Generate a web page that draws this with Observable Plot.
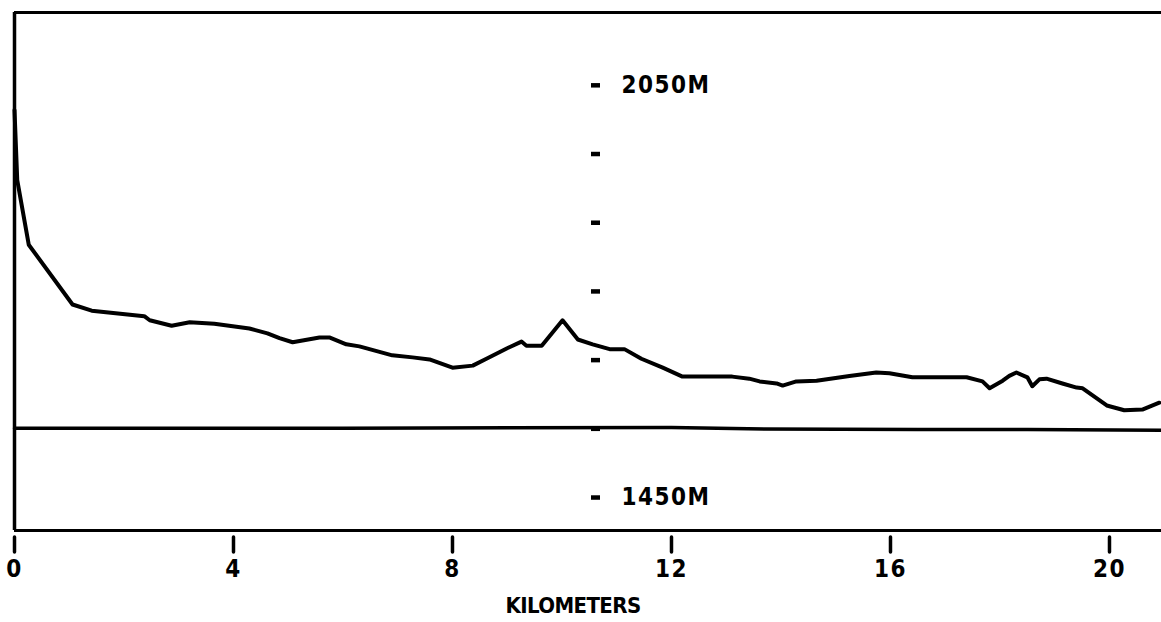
<!DOCTYPE html>
<html>
<head>
<meta charset="utf-8">
<script src="https://cdn.jsdelivr.net/npm/d3@7"></script>
<script src="https://cdn.jsdelivr.net/npm/@observablehq/plot@0.6"></script>
<style>
  html, body { margin: 0; padding: 0; background: #fff; }
  #chart svg { display: block; background: #fff; }
  #chart svg text {
    font-family: "DejaVu Sans Condensed", "DejaVu Sans", sans-serif;
    font-stretch: condensed;
    font-weight: bold;
    font-size: 24px;
    letter-spacing: 1.5px;
    fill: #000;
  }
  #chart svg g.xtitle text {
    font-size: 22px;
    letter-spacing: -0.6px;
  }
</style>
</head>
<body>
<div id="chart"></div>
<script>
// Profile distance (km) and elevation (m)
const profileKm = [0, 0.05, 0.26, 1.06, 1.41, 2.37, 2.47, 2.87, 3.20, 3.65, 4.29, 4.62, 4.84, 5.08, 5.57, 5.75, 6.06, 6.30, 6.90, 7.27, 7.58, 8.00, 8.37, 8.62, 8.99, 9.26, 9.35, 9.63, 10.01, 10.29, 10.56, 10.87, 11.14, 11.45, 11.84, 12.20, 13.11, 13.42, 13.61, 13.92, 14.03, 14.28, 14.65, 15.25, 15.74, 15.98, 16.40, 17.39, 17.68, 17.81, 18.05, 18.17, 18.30, 18.50, 18.59, 18.72, 18.85, 19.14, 19.40, 19.51, 19.95, 20.27, 20.60, 20.91];
const profileM  = [2014, 1912, 1818, 1731, 1722, 1714, 1708, 1700, 1705, 1703, 1696, 1689, 1682, 1676, 1683, 1683, 1673, 1670, 1657, 1654, 1651, 1639, 1642, 1652, 1667, 1677, 1671, 1671, 1708, 1680, 1673, 1666, 1666, 1652, 1639, 1626, 1626, 1623, 1619, 1616, 1613, 1619, 1620, 1627, 1632, 1631, 1625, 1625, 1619, 1609, 1620, 1627, 1632, 1625, 1612, 1622, 1623, 1616, 1610, 1609, 1584, 1577, 1578, 1588];

// Reference (baseline) line
const baseKm = [0, 6, 12, 13.4, 16.5, 18.5, 20.95];
const baseM  = [1551, 1551, 1552, 1550, 1549, 1549, 1548];

// Axis ticks
const xTicks = [0, 4, 8, 12, 16, 20];
const yTicks = [2050, 1950, 1850, 1750, 1650, 1550, 1450];
const yLabelled = [2050, 1450];
const xDomain = [0, 20.95];
const yDomain = [1402, 2156];
const xTitle = "KILOMETERS";

const profile = profileKm.map((k, i) => ({km: k, m: profileM[i]}));
const base = baseKm.map((k, i) => ({km: k, m: baseM[i]}));

const chart = Plot.plot({
  width: 1161,
  height: 622,
  marginTop: 12,
  marginBottom: 92,
  marginLeft: 14,
  marginRight: 0,
  x: {domain: xDomain},
  y: {domain: yDomain},
  marks: [
    // frame: top, bottom, left
    Plot.ruleY([yDomain[1]], {stroke: "#000", strokeWidth: 3}),
    Plot.ruleY([yDomain[0]], {stroke: "#000", strokeWidth: 3}),
    Plot.ruleX([xDomain[0]], {stroke: "#000", strokeWidth: 3.5}),
    // baseline
    Plot.line(base, {x: "km", y: "m", stroke: "#000", strokeWidth: 3.5}),
    // profile
    Plot.line(profile, {x: "km", y: "m", stroke: "#000", strokeWidth: 4, strokeLinejoin: "round", strokeLinecap: "round"}),
    // y axis in the middle of the panel
    Plot.axisY({
      anchor: "right",
      ticks: yTicks,
      tickSize: 9,
      tickPadding: 22,
      dx: -571,
      strokeWidth: 4.5,
      tickFormat: d => yLabelled.includes(d) ? `${d}M` : "",
      label: null
    }),
    // x axis
    Plot.axisX({
      anchor: "bottom",
      ticks: xTicks,
      tickSize: 15,
      tickPadding: 7,
      strokeWidth: 3.5,
      strokeLinecap: "round",
      dy: 7,
      tickFormat: d => String(d),
      label: null
    }),
    Plot.text([xTitle], {
      text: d => d,
      frameAnchor: "bottom",
      dy: 75,
      dx: -15,
      lineAnchor: "middle",
      className: "xtitle"
    })
  ]
});

document.getElementById("chart").appendChild(chart);
</script>
</body>
</html>
